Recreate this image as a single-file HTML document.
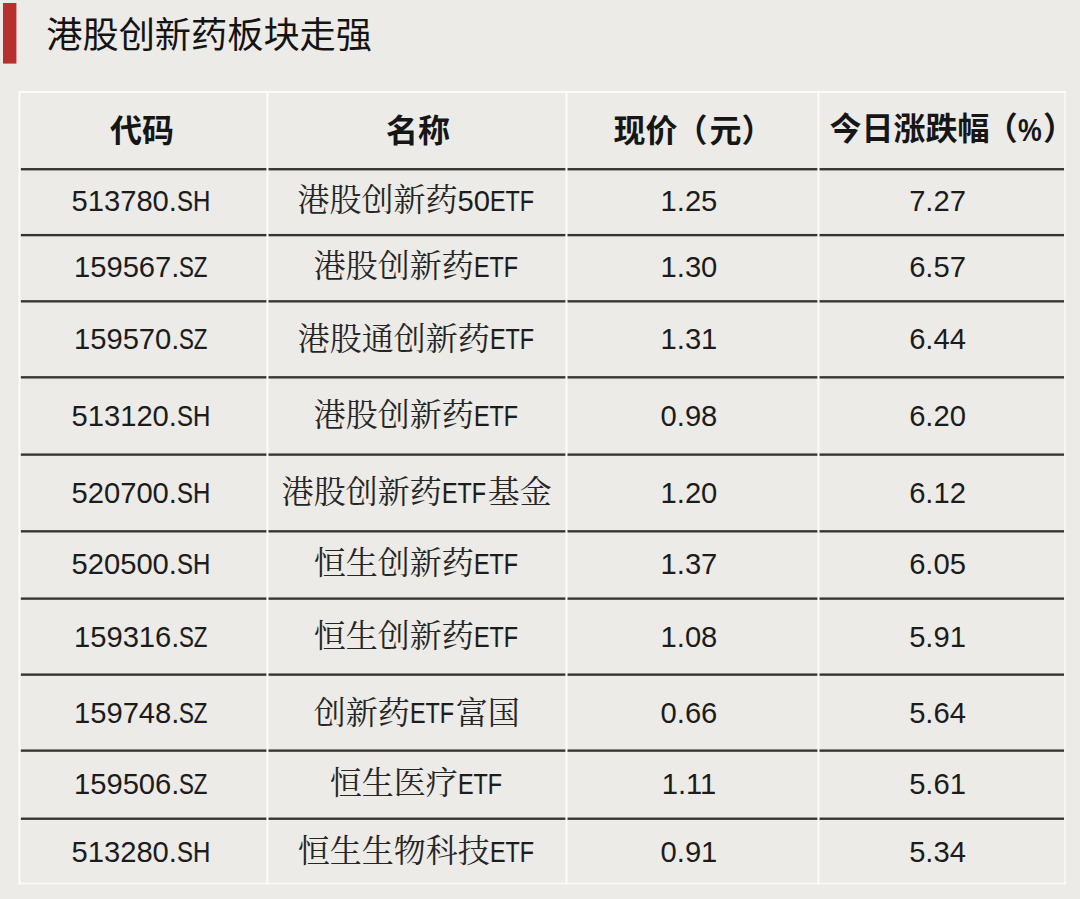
<!DOCTYPE html>
<html lang="zh-CN"><head><meta charset="utf-8"><title>港股创新药板块走强</title>
<style>
html,body{margin:0;padding:0}
body{width:1080px;height:899px;overflow:hidden;background:#ecebe7;font-family:"Liberation Sans",sans-serif;color:#1c1c1c}
.page{position:relative;width:1080px;height:899px;overflow:hidden;background:#ecebe7}
.bar{position:absolute;left:3px;top:3px;width:13px;height:60px;background:#b8302e}
.title{position:absolute;left:46.3px;top:17.8px;margin:0;font-weight:normal;font-size:36.2px;line-height:1;white-space:nowrap;color:#141414}
.c{display:inline-block;position:relative;height:1em;line-height:1em;overflow:visible;vertical-align:baseline;white-space:nowrap;text-align:left;font-family:"Liberation Sans","Noto Sans CJK SC",sans-serif}
.tbl{position:absolute;left:20.6px;top:93px;border-collapse:collapse;border-spacing:0;table-layout:fixed;width:1043.5px}
.tbl th,.tbl td{box-sizing:border-box;padding:0;margin:0;border:0;text-align:center;vertical-align:top;white-space:nowrap;line-height:40px;font-weight:normal;overflow:visible}
.tbl td{font-size:29.2px;padding-top:var(--p)}
.tbl th{font-size:32.0px;padding-top:18.0px;font-weight:bold;color:#161616}
.tbl th .c{font-weight:bold}
.tbl td .c{font-size:32.0px;color:#262626;vertical-align:-0.41px;font-family:"Liberation Serif","Noto Serif CJK SC",serif}
.u{display:inline-block;text-align:left;transform:scaleX(var(--k));transform-origin:0 50%;-webkit-text-stroke:.2px currentColor}
.pc{display:inline-block;box-sizing:border-box;text-align:left;width:25.4px;font-size:31.0px}
.pc b{display:inline-block;position:relative;left:0.6px;top:0.9px;font-weight:bold;transform:scaleX(0.86);transform-origin:0 50%}
.grid{position:absolute;left:0;top:0;pointer-events:none}
.tbl td.k1{padding-right:6px}
.tbl td.k2{padding-right:2.6px}
.tbl td.k3{padding-right:9px}
.tbl td.k4{padding-right:8.6px}
</style></head>
<body>
<div class="page">
<div class="bar"></div>
<h1 class="title"><span class="c" style="width:9em">港股创新药板块走强</span></h1>
<table class="tbl"><colgroup><col style="width:247.9px"><col style="width:299px"><col style="width:252px"><col style="width:244.6px"></colgroup>
<thead><tr style="height:77.4px"><th style="padding-right:5px"><span class="c" style="width:2em">代码</span></th><th><span class="c" style="width:2em">名称</span></th><th><span class="c" style="width:2em">现价</span><span class="c" style="width:1em;margin-left:-2px">（</span><span class="c" style="width:2em;margin-left:2px">元）</span></th><th style="padding-top:16.3px;text-align:left;padding-left:10px"><span class="c" style="width:5em">今日涨跌幅</span><span class="c" style="width:1em;margin-left:-3.8px">（</span><span class="pc"><b>%</b></span><span class="c" style="width:1em">）</span></th></tr></thead>
<tbody>
<tr style="height:65.9px;--p:10.6px"><td class="k1"><span class="d" style="letter-spacing:-0.02px">513780.</span><span class="u" style="width:34.64px;--k:0.820">SH</span></td><td class="k2"><span class="c" style="width:5em">港股创新药</span><span class="d" style="letter-spacing:-0.02px">50</span><span class="u" style="width:45.92px;--k:0.799">ETF</span></td><td class="k3"><span class="d" style="letter-spacing:-0.02px">1.25</span></td><td class="k4"><span class="d" style="letter-spacing:-0.02px">7.27</span></td></tr>
<tr style="height:66.2px;--p:10.7px"><td class="k1"><span class="d" style="letter-spacing:-0.02px">159567.</span><span class="u" style="width:29.69px;--k:0.764">SZ</span></td><td class="k2"><span class="c" style="width:5em">港股创新药</span><span class="u" style="width:45.92px;--k:0.799">ETF</span></td><td class="k3"><span class="d" style="letter-spacing:-0.02px">1.30</span></td><td class="k4"><span class="d" style="letter-spacing:-0.02px">6.57</span></td></tr>
<tr style="height:76px;--p:16.7px"><td class="k1"><span class="d" style="letter-spacing:-0.02px">159570.</span><span class="u" style="width:29.69px;--k:0.764">SZ</span></td><td class="k2"><span class="c" style="width:6em">港股通创新药</span><span class="u" style="width:45.92px;--k:0.799">ETF</span></td><td class="k3"><span class="d" style="letter-spacing:-0.02px">1.31</span></td><td class="k4"><span class="d" style="letter-spacing:-0.02px">6.44</span></td></tr>
<tr style="height:77.3px;--p:17.4px"><td class="k1"><span class="d" style="letter-spacing:-0.02px">513120.</span><span class="u" style="width:34.64px;--k:0.820">SH</span></td><td class="k2"><span class="c" style="width:5em">港股创新药</span><span class="u" style="width:45.92px;--k:0.799">ETF</span></td><td class="k3"><span class="d" style="letter-spacing:-0.02px">0.98</span></td><td class="k4"><span class="d" style="letter-spacing:-0.02px">6.20</span></td></tr>
<tr style="height:76.7px;--p:17.2px"><td class="k1"><span class="d" style="letter-spacing:-0.02px">520700.</span><span class="u" style="width:34.64px;--k:0.820">SH</span></td><td class="k2"><span class="c" style="width:5em">港股创新药</span><span class="u" style="width:45.92px;--k:0.799">ETF</span><span class="c" style="width:2em">基金</span></td><td class="k3"><span class="d" style="letter-spacing:-0.02px">1.20</span></td><td class="k4"><span class="d" style="letter-spacing:-0.02px">6.12</span></td></tr>
<tr style="height:67.3px;--p:11.6px"><td class="k1"><span class="d" style="letter-spacing:-0.02px">520500.</span><span class="u" style="width:34.64px;--k:0.820">SH</span></td><td class="k2"><span class="c" style="width:5em">恒生创新药</span><span class="u" style="width:45.92px;--k:0.799">ETF</span></td><td class="k3"><span class="d" style="letter-spacing:-0.02px">1.37</span></td><td class="k4"><span class="d" style="letter-spacing:-0.02px">6.05</span></td></tr>
<tr style="height:76px;--p:17.2px"><td class="k1"><span class="d" style="letter-spacing:-0.02px">159316.</span><span class="u" style="width:29.69px;--k:0.764">SZ</span></td><td class="k2"><span class="c" style="width:5em">恒生创新药</span><span class="u" style="width:45.92px;--k:0.799">ETF</span></td><td class="k3"><span class="d" style="letter-spacing:-0.02px">1.08</span></td><td class="k4"><span class="d" style="letter-spacing:-0.02px">5.91</span></td></tr>
<tr style="height:76px;--p:17.4px"><td class="k1"><span class="d" style="letter-spacing:-0.02px">159748.</span><span class="u" style="width:29.69px;--k:0.764">SZ</span></td><td class="k2"><span class="c" style="width:3em">创新药</span><span class="u" style="width:45.92px;--k:0.799">ETF</span><span class="c" style="width:2em">富国</span></td><td class="k3"><span class="d" style="letter-spacing:-0.02px">0.66</span></td><td class="k4"><span class="d" style="letter-spacing:-0.02px">5.64</span></td></tr>
<tr style="height:68.1px;--p:11.9px"><td class="k1"><span class="d" style="letter-spacing:-0.02px">159506.</span><span class="u" style="width:29.69px;--k:0.764">SZ</span></td><td class="k2"><span class="c" style="width:4em">恒生医疗</span><span class="u" style="width:45.92px;--k:0.799">ETF</span></td><td class="k3"><span class="d" style="letter-spacing:-0.02px">1.11</span></td><td class="k4"><span class="d" style="letter-spacing:-0.02px">5.61</span></td></tr>
<tr style="height:62.6px;--p:12.1px"><td class="k1"><span class="d" style="letter-spacing:-0.02px">513280.</span><span class="u" style="width:34.64px;--k:0.820">SH</span></td><td class="k2"><span class="c" style="width:6em">恒生生物科技</span><span class="u" style="width:45.92px;--k:0.799">ETF</span></td><td class="k3"><span class="d" style="letter-spacing:-0.02px">0.91</span></td><td class="k4"><span class="d" style="letter-spacing:-0.02px">5.34</span></td></tr>
</tbody></table>
<svg class="grid" width="1080" height="899" viewBox="0 0 1080 899" aria-hidden="true"><rect x="20.6" y="168.05" width="1043.5" height="2.35" fill="#343432"/><rect x="20.6" y="233.95" width="1043.5" height="2.35" fill="#343432"/><rect x="20.6" y="300.15" width="1043.5" height="2.35" fill="#343432"/><rect x="20.6" y="376.15" width="1043.5" height="2.35" fill="#343432"/><rect x="20.6" y="453.45" width="1043.5" height="2.35" fill="#343432"/><rect x="20.6" y="530.15" width="1043.5" height="2.35" fill="#343432"/><rect x="20.6" y="597.45" width="1043.5" height="2.35" fill="#343432"/><rect x="20.6" y="673.45" width="1043.5" height="2.35" fill="#343432"/><rect x="20.6" y="749.45" width="1043.5" height="2.35" fill="#343432"/><rect x="20.6" y="817.55" width="1043.5" height="2.35" fill="#343432"/><rect x="18.5" y="91" width="2.1" height="793.5" fill="#fbfbfa"/><rect x="266.4" y="91" width="2.1" height="793.5" fill="#fbfbfa"/><rect x="565.4" y="91" width="2.1" height="793.5" fill="#fbfbfa"/><rect x="817.4" y="91" width="2.1" height="793.5" fill="#fbfbfa"/><rect x="1064.1" y="91" width="2.1" height="793.5" fill="#fbfbfa" opacity=".7"/><rect x="18.5" y="91" width="1047.7" height="2" fill="#fbfbfa"/><rect x="18.5" y="882.5" width="1047.7" height="2" fill="#fbfbfa" opacity=".85"/><rect x="3" y="3.1" width="13.4" height="60.5" fill="#b8302e"/></svg>
</div>
</body></html>
